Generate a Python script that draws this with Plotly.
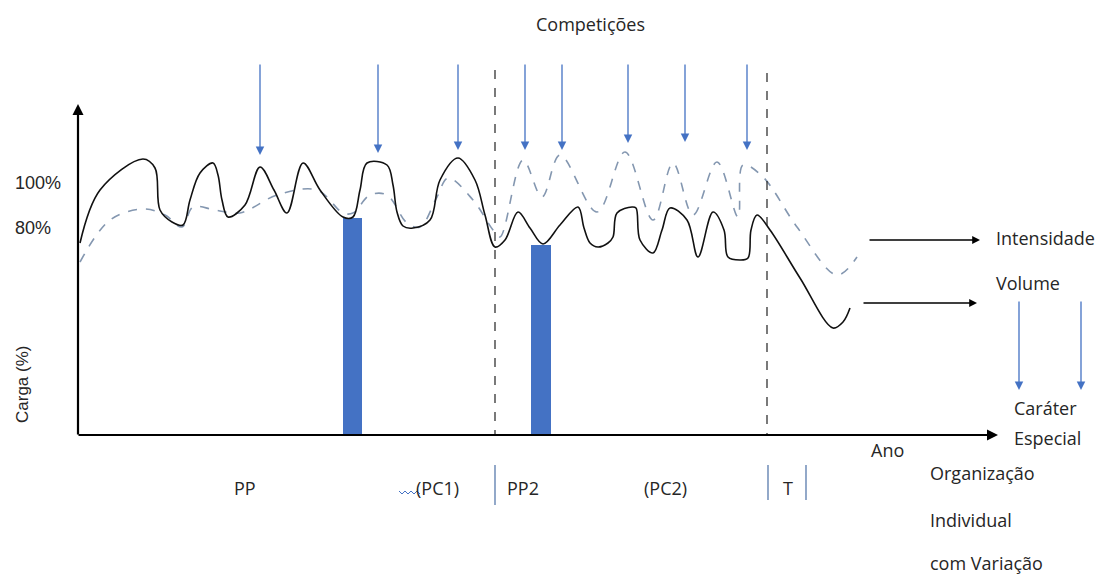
import plotly.graph_objects as go

# ---- data (diagram units: x = time position, y = vertical position, 0 at top) ----
volume_x = [80, 100, 143, 155, 160, 172, 183, 190, 200, 213, 218, 222, 228, 245, 260, 274, 287, 303, 320, 343, 353,
            360, 367, 387, 393, 397, 403, 413, 430, 440, 458, 475, 485, 495, 505, 518, 530, 543, 560, 578,
            584, 590, 598, 608, 613, 617, 632, 636, 640, 653, 662, 670, 687, 698, 713, 724, 728, 740, 748, 751,
            757, 770, 800, 833, 843, 850]
volume_y = [243, 190, 159, 168, 210, 222, 225, 200, 173, 163, 175, 200, 217, 205, 167, 190, 213, 163, 190, 217, 217,
            190, 163, 165, 185, 212, 226, 228, 220, 180, 158, 180, 215, 247, 240, 212, 228, 244, 225, 207,
            228, 243, 247, 243, 237, 213, 207, 208, 240, 253, 230, 208, 220, 257, 212, 230, 257, 260, 258, 230,
            215, 230, 278, 328, 322, 308]

intens_x = [80, 110, 143, 165, 182, 193, 215, 240, 277, 317, 343, 353, 370, 387, 407, 420, 437, 448, 473, 493,
            500, 523, 542, 560, 597, 625, 653, 673, 693, 717, 738, 743, 763, 797, 837, 857]
intens_y = [262, 220, 209, 215, 227, 207, 210, 213, 195, 190, 213, 213, 195, 195, 223, 227, 197, 178, 200, 230,
            237, 160, 197, 155, 212, 152, 220, 163, 215, 162, 217, 165, 177, 227, 275, 257]

bars_x = [352.5, 541]
bars_top = [218, 245]
bars_w = [19, 20]

competitions_x = [260, 378, 458, 525, 562, 628, 685, 747]
competitions_tip = [155, 153, 150, 150, 150, 143, 142, 150]

period_dividers = [495, 767]
phase_labels = ["PP", "(PC1)", "PP2", "(PC2)", "T"]
phase_x = [245, 437, 523, 665, 788]

FONT = "Open Sans"
FONT2 = "Liberation Sans"
TXT = "#262626"
BLUE = "#4472C4"

fig = go.Figure()

# bars
for bx, bt, bw in zip(bars_x, bars_top, bars_w):
    fig.add_trace(go.Bar(x=[bx], y=[435 - bt], base=[bt], width=[bw], marker=dict(color=BLUE, line=dict(width=0)),
                         showlegend=False, hoverinfo="skip"))

# intensity (dashed) and volume (solid)
fig.add_trace(go.Scatter(x=intens_x, y=intens_y, mode="lines", line=dict(color="#8497B0", width=1.6, dash="dash",
                         shape="spline", smoothing=1.0), showlegend=False, hoverinfo="skip"))
fig.add_trace(go.Scatter(x=volume_x, y=volume_y, mode="lines", line=dict(color="#111111", width=1.6,
                         shape="spline", smoothing=1.0), showlegend=False, hoverinfo="skip"))

shapes = []
# period dividers (dashed)
for dx, top in zip(period_dividers, [70, 73]):
    shapes.append(dict(type="line", x0=dx, x1=dx, y0=top, y1=435, xref="x", yref="y",
                       line=dict(color="#222222", width=1.2, dash="dash")))
# small solid separators under axis
for sx, (a, b) in zip([495, 768, 806], [(465, 505), (465, 500), (465, 500)]):
    shapes.append(dict(type="line", x0=sx, x1=sx, y0=a, y1=b, xref="x", yref="y",
                       line=dict(color="#4A6FA5", width=1.2)))
fig.update_layout(shapes=shapes)

ann = []
def arrow(x0, y0, x1, y1, color, width=1.3, head=2, size=1.2):
    ann.append(dict(x=x1, y=y1, ax=x0, ay=y0, xref="x", yref="y", axref="x", ayref="y", showarrow=True,
                    arrowhead=head, arrowsize=size, arrowwidth=width, arrowcolor=color, text=""))

# axes
arrow(78, 436, 78, 104, "#000000", width=2.2, head=2, size=1.0)
arrow(77, 435, 998, 435, "#000000", width=2.2, head=2, size=1.0)
# competitions
for cx, tip in zip(competitions_x, competitions_tip):
    arrow(cx, 63, cx, tip, BLUE, width=1.3, head=2, size=1.3)
# right legend arrows
arrow(868, 240, 980, 240, "#000000", width=1.3, head=2, size=1.2)
arrow(862, 303, 977, 303, "#000000", width=1.3, head=2, size=1.2)
arrow(1019, 300, 1019, 390, BLUE, width=1.3, head=2, size=1.3)
arrow(1081, 300, 1081, 390, BLUE, width=1.3, head=2, size=1.3)

def text(x, y, s, anchor="center", size=18, angle=0, family=FONT):
    ann.append(dict(x=x, y=y, xref="x", yref="y", text=s, showarrow=False, xanchor=anchor, yanchor="middle",
                    textangle=angle, font=dict(family=family, size=size, color=TXT)))

text(590, 24, "Competições")
text(13, 183, "100%", anchor="left", family=FONT2)
text(13, 228, "80%", anchor="left", family=FONT2)
text(22, 385, "Carga (%)", angle=-90, size=17, family=FONT2)
text(994, 238, "Intensidade", anchor="left")
text(994, 283, "Volume", anchor="left")
text(1012, 408, "Caráter", anchor="left")
text(1012, 438, "Especial", anchor="left")
text(887, 450, "Ano")
for lbl, px in zip(phase_labels, phase_x):
    text(px, 488, lbl)
text(928, 473, "Organização", anchor="left")
text(928, 520, "Individual", anchor="left")
text(928, 563, "com Variação", anchor="left")
# spell-check squiggle under (PC1)
fig.add_trace(go.Scatter(x=[399, 402, 405, 408, 411, 414, 417, 420], y=[491, 494, 491, 494, 491, 494, 491, 494],
                         mode="lines", line=dict(color="#4472C4", width=1), showlegend=False, hoverinfo="skip"))

fig.update_layout(annotations=ann)

fig.update_layout(
    width=1109, height=577, margin=dict(l=0, r=0, t=0, b=0),
    plot_bgcolor="white", paper_bgcolor="white", barmode="overlay",
    xaxis=dict(range=[0, 1109], visible=False, fixedrange=True),
    yaxis=dict(range=[577, 0], visible=False, fixedrange=True),
)

fig.write_html("out.html", config={"displayModeBar": False},
               post_script="document.body.style.margin='0px';document.body.style.overflow='hidden';")
